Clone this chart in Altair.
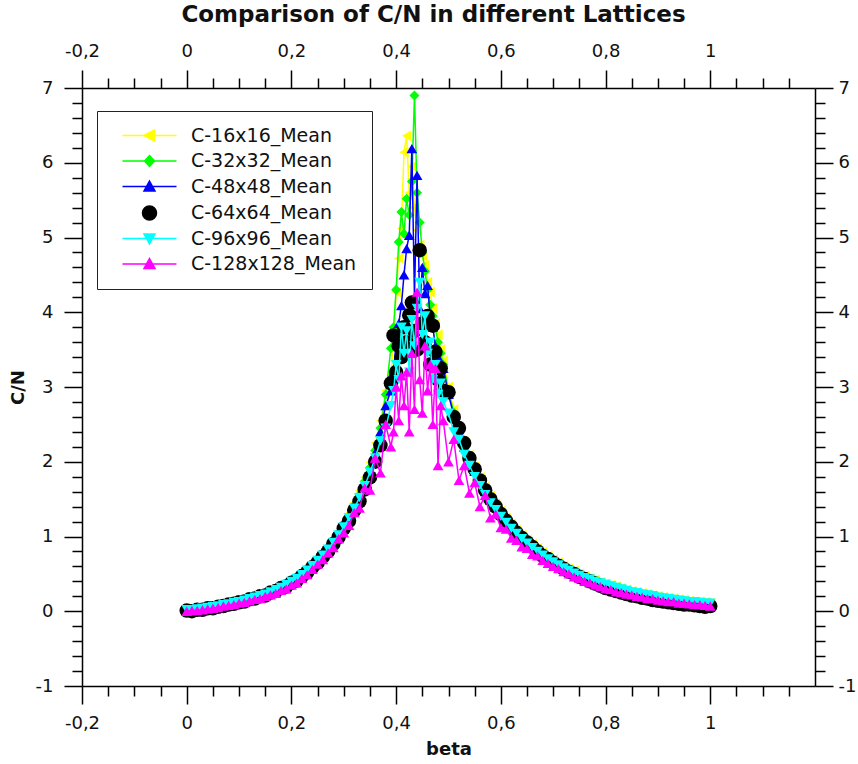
import altair as alt
import pandas as pd

FONT = "DejaVu Sans"

# inverse temperature grid (denser around the critical point)
BETA_LOW = [0.00, 0.01, 0.02, 0.03, 0.04, 0.05, 0.06, 0.07, 0.08, 0.09,
            0.10, 0.11, 0.12, 0.13, 0.14, 0.15, 0.16, 0.17, 0.18, 0.19,
            0.20, 0.21, 0.22, 0.23, 0.24, 0.25, 0.26, 0.27, 0.28, 0.29,
            0.30, 0.31, 0.32, 0.33, 0.34, 0.35, 0.36, 0.37, 0.38, 0.39]
BETA_PEAK = [0.395, 0.400, 0.405, 0.410, 0.415, 0.420, 0.425, 0.430, 0.435, 0.440,
             0.445, 0.450, 0.455, 0.460, 0.465, 0.470, 0.475, 0.480, 0.485]
BETA_HIGH = [0.49, 0.50, 0.51, 0.52, 0.53, 0.54, 0.55, 0.56, 0.57, 0.58,
             0.59, 0.60, 0.61, 0.62, 0.63, 0.64, 0.65, 0.66, 0.67, 0.68,
             0.69, 0.70, 0.71, 0.72, 0.73, 0.74, 0.75, 0.76, 0.77, 0.78,
             0.79, 0.80, 0.81, 0.82, 0.83, 0.84, 0.85, 0.86, 0.87, 0.88,
             0.89, 0.90, 0.91, 0.92, 0.93, 0.94, 0.95, 0.96, 0.97, 0.98,
             0.99, 1.00]
BETA = BETA_LOW + BETA_PEAK + BETA_HIGH

C16 = [0.02, 0.02, 0.03, 0.04, 0.05, 0.06, 0.08, 0.09, 0.11, 0.12,
       0.14, 0.16, 0.18, 0.20, 0.22, 0.25, 0.27, 0.30, 0.34, 0.37,
       0.41, 0.46, 0.51, 0.57, 0.63, 0.70, 0.78, 0.86, 0.96, 1.06,
       1.18, 1.31, 1.45, 1.61, 1.79, 1.99, 2.25, 2.55, 2.95, 3.16,
       3.55, 4.27, 4.72, 5.12, 6.14, 6.36, 5.60, 5.95, 5.40, 5.10,
       4.90, 4.75, 4.63, 4.40, 4.27, 4.05, 3.85, 3.70, 3.50,
       3.35, 3.00, 2.70, 2.47, 2.27, 2.09, 1.93, 1.79, 1.66, 1.54,
       1.44, 1.34, 1.25, 1.17, 1.09, 1.02, 0.96, 0.90, 0.84, 0.79,
       0.74, 0.69, 0.65, 0.61, 0.57, 0.54, 0.50, 0.47, 0.44, 0.42,
       0.39, 0.37, 0.35, 0.33, 0.31, 0.29, 0.27, 0.26, 0.24, 0.23,
       0.21, 0.20, 0.19, 0.18, 0.17, 0.16, 0.15, 0.14, 0.13, 0.13,
       0.12, 0.11]

C32 = [0.02, 0.01, 0.03, 0.03, 0.05, 0.06, 0.07, 0.09, 0.10, 0.12,
       0.13, 0.15, 0.17, 0.19, 0.21, 0.24, 0.26, 0.29, 0.33, 0.36,
       0.40, 0.45, 0.50, 0.55, 0.62, 0.68, 0.76, 0.84, 0.93, 1.03,
       1.15, 1.27, 1.41, 1.56, 1.74, 1.92, 2.15, 2.45, 2.90, 3.52,
       3.80, 4.30, 4.94, 5.34, 5.05, 5.52, 5.30, 5.75, 6.90, 5.60,
       5.20, 4.80, 4.55, 4.30, 4.10, 3.95, 3.80, 3.60, 3.45,
       3.30, 2.95, 2.66, 2.44, 2.24, 2.06, 1.90, 1.76, 1.63, 1.52,
       1.41, 1.31, 1.23, 1.14, 1.07, 1.00, 0.94, 0.88, 0.82, 0.77,
       0.72, 0.67, 0.63, 0.59, 0.56, 0.52, 0.49, 0.46, 0.43, 0.41,
       0.38, 0.36, 0.34, 0.32, 0.30, 0.28, 0.26, 0.25, 0.23, 0.22,
       0.21, 0.19, 0.18, 0.17, 0.16, 0.15, 0.14, 0.13, 0.12, 0.12,
       0.11, 0.10]

C48 = [0.01, 0.02, 0.02, 0.03, 0.05, 0.05, 0.07, 0.08, 0.10, 0.11,
       0.13, 0.14, 0.16, 0.18, 0.21, 0.22, 0.25, 0.28, 0.31, 0.35,
       0.39, 0.43, 0.48, 0.54, 0.60, 0.66, 0.74, 0.82, 0.91, 1.01,
       1.12, 1.24, 1.37, 1.52, 1.69, 1.88, 2.12, 2.40, 2.75, 2.95,
       3.20, 3.60, 3.85, 4.09, 4.50, 4.85, 5.03, 6.19, 4.20, 5.83,
       4.05, 4.60, 4.25, 4.36, 3.95, 3.80, 3.55, 3.40, 3.30,
       3.25, 2.90, 2.62, 2.40, 2.20, 2.02, 1.87, 1.73, 1.60, 1.49,
       1.39, 1.29, 1.21, 1.12, 1.05, 0.98, 0.92, 0.86, 0.80, 0.75,
       0.70, 0.66, 0.62, 0.58, 0.54, 0.51, 0.48, 0.45, 0.42, 0.40,
       0.37, 0.35, 0.33, 0.31, 0.29, 0.27, 0.26, 0.24, 0.23, 0.21,
       0.20, 0.19, 0.17, 0.16, 0.15, 0.14, 0.14, 0.13, 0.12, 0.11,
       0.11, 0.10]

C64 = [0.01, 0.00, 0.02, 0.02, 0.04, 0.04, 0.06, 0.07, 0.09, 0.10,
       0.12, 0.13, 0.16, 0.17, 0.20, 0.21, 0.25, 0.27, 0.31, 0.33,
       0.38, 0.41, 0.47, 0.52, 0.59, 0.65, 0.73, 0.80, 0.90, 0.99,
       1.11, 1.21, 1.35, 1.47, 1.63, 1.79, 2.00, 2.22, 2.55, 3.05,
       3.69, 3.20, 3.55, 3.40, 3.80, 3.60, 3.96, 4.13, 3.75, 3.50,
       4.83, 3.85, 3.60, 3.95, 3.30, 3.82, 3.47, 3.10, 3.25,
       2.95, 2.93, 2.60, 2.45, 2.25, 2.05, 1.90, 1.75, 1.62, 1.50,
       1.40, 1.30, 1.21, 1.13, 1.05, 0.98, 0.92, 0.86, 0.80, 0.74,
       0.70, 0.65, 0.61, 0.57, 0.53, 0.50, 0.46, 0.43, 0.40, 0.37,
       0.34, 0.31, 0.29, 0.27, 0.25, 0.23, 0.21, 0.20, 0.18, 0.17,
       0.15, 0.14, 0.13, 0.12, 0.11, 0.10, 0.09, 0.09, 0.08, 0.07,
       0.06, 0.07]

C96 = [0.02, 0.02, 0.03, 0.04, 0.05, 0.06, 0.07, 0.09, 0.10, 0.12,
       0.13, 0.15, 0.17, 0.19, 0.21, 0.23, 0.26, 0.29, 0.32, 0.36,
       0.40, 0.44, 0.49, 0.55, 0.61, 0.68, 0.75, 0.83, 0.92, 1.02,
       1.13, 1.25, 1.38, 1.52, 1.68, 1.86, 2.05, 2.28, 2.45, 2.75,
       2.95, 3.30, 3.10, 3.80, 3.45, 3.75, 3.20, 3.90, 3.55, 4.05,
       4.40, 3.70, 3.95, 3.45, 3.60, 3.10, 3.30, 2.90, 3.05,
       2.80, 2.65, 2.40, 2.30, 2.10, 1.95, 1.80, 1.68, 1.56, 1.45,
       1.36, 1.27, 1.19, 1.11, 1.04, 0.97, 0.91, 0.85, 0.80, 0.75,
       0.70, 0.66, 0.62, 0.58, 0.55, 0.51, 0.48, 0.45, 0.43, 0.40,
       0.38, 0.36, 0.34, 0.32, 0.30, 0.28, 0.26, 0.25, 0.23, 0.22,
       0.21, 0.19, 0.18, 0.17, 0.16, 0.15, 0.14, 0.13, 0.13, 0.12,
       0.11, 0.11]

C128 = [0.00, 0.01, 0.01, 0.02, 0.03, 0.04, 0.05, 0.07, 0.08, 0.09,
        0.11, 0.12, 0.14, 0.16, 0.17, 0.20, 0.22, 0.24, 0.28, 0.30,
        0.35, 0.38, 0.44, 0.49, 0.56, 0.63, 0.69, 0.78, 0.85, 0.97,
        1.05, 1.15, 1.32, 1.38, 1.65, 1.62, 2.05, 1.85, 2.50, 2.20,
        2.40, 3.00, 2.55, 3.15, 2.75, 3.20, 2.40, 3.45, 2.70, 4.27,
        3.10, 2.65, 3.55, 2.95, 3.30, 2.50, 3.25, 1.95, 2.75,
        2.55, 2.00, 2.30, 1.75, 1.95, 1.58, 1.72, 1.40, 1.55, 1.25,
        1.30, 1.12, 1.10, 0.98, 0.95, 0.86, 0.84, 0.76, 0.74, 0.68,
        0.64, 0.60, 0.57, 0.53, 0.50, 0.46, 0.44, 0.40, 0.38, 0.35,
        0.33, 0.30, 0.29, 0.26, 0.25, 0.23, 0.22, 0.20, 0.19, 0.17,
        0.17, 0.15, 0.14, 0.13, 0.13, 0.11, 0.11, 0.10, 0.09, 0.09,
        0.08, 0.07]

SERIES = ["C-16x16_Mean", "C-32x32_Mean", "C-48x48_Mean",
          "C-64x64_Mean", "C-96x96_Mean", "C-128x128_Mean"]
VALUES = [C16, C32, C48, C64, C96, C128]
COLORS = ["#ffff00", "#00ff00", "#0000ff", "#000000", "#00ffff", "#ff00ff"]
SHAPES = ["triangle-left", "diamond", "triangle-up", "circle", "triangle-down", "triangle-up"]
SIZES = [115, 100, 115, 210, 115, 115]
HAS_LINE = [True, True, True, False, True, True]

# legend glyphs: a line segment with the marker in the middle (unit = sqrt(size)/2 px)
LEGEND_GLYPHS = [
    "M-5.4,0H5.4M-1.1,0L1,-1.1L1,1.1Z",
    "M-5.4,0H5.4M0,-1.1L1,0L0,1.1L-1,0Z",
    "M-5.4,0H5.4M0,-1.1L1.1,0.9L-1.1,0.9Z",
    "M1.4,0A1.4,1.4 0 1,1 -1.4,0A1.4,1.4 0 1,1 1.4,0Z",
    "M-5.4,0H5.4M-1.1,-0.9L1.1,-0.9L0,1.1Z",
    "M-5.4,0H5.4M0,-1.1L1.1,0.9L-1.1,0.9Z",
]

X_MAJOR = [-0.2, 0, 0.2, 0.4, 0.6, 0.8, 1]
X_MINOR = [round(-0.2 + 0.05 * i, 2) for i in range(28) if i % 4]
Y_MAJOR = [-1, 0, 1, 2, 3, 4, 5, 6, 7]
Y_MINOR = [round(-1 + 0.2 * i, 1) for i in range(41) if i % 5]

frames = []
for name, vals in zip(SERIES, VALUES):
    if len(vals) != len(BETA):
        raise ValueError(f"{name}: {len(vals)} values for {len(BETA)} beta points")
    frames.append(pd.DataFrame({"beta": BETA, "C": vals, "series": name}))
data = pd.concat(frames, ignore_index=True)

x_scale = alt.Scale(domain=[-0.2, 1.2], nice=False, zero=False)
y_scale = alt.Scale(domain=[-1, 7], nice=False, zero=False)

LABEL_EXPR = "replace(toString(datum.value), '.', ',')"


def make_axis(orient, values, major, title=None, pad=10):
    kw = dict(orient=orient, values=values, grid=False,
              domain=major, domainColor="black", domainWidth=1.5,
              ticks=True, tickColor="black", tickWidth=1.5,
              tickSize=18 if major else 10, labels=major,
              title=title)
    if major:
        kw.update(labelFont=FONT, labelFontSize=18, labelColor="#111",
                  labelPadding=pad, labelFlush=False, labelOverlap=False,
                  labelExpr=LABEL_EXPR)
    if title:
        kw.update(titleFont=FONT, titleFontSize=18, titleFontWeight="bold",
                  titleColor="#111", titlePadding=8)
    return alt.Axis(**kw)


def frame_layer(x_axis, y_axis):
    return alt.Chart(data).transform_filter("false").mark_point(opacity=0).encode(
        x=alt.X("beta:Q", scale=x_scale, axis=x_axis),
        y=alt.Y("C:Q", scale=y_scale, axis=y_axis),
    )


layers = [
    frame_layer(make_axis("bottom", X_MAJOR, True, "beta"),
                make_axis("left", Y_MAJOR, True, "C/N", pad=11)),
    frame_layer(make_axis("bottom", X_MINOR, False), make_axis("left", Y_MINOR, False)),
    frame_layer(make_axis("top", X_MAJOR, True), make_axis("right", Y_MAJOR, True, pad=5)),
    frame_layer(make_axis("top", X_MINOR, False), make_axis("right", Y_MINOR, False)),
]

enc = dict(x=alt.X("beta:Q", scale=x_scale, axis=None),
           y=alt.Y("C:Q", scale=y_scale, axis=None))

for name, color, shape, size, has_line in zip(SERIES, COLORS, SHAPES, SIZES, HAS_LINE):
    sub = alt.Chart(data).transform_filter(alt.datum.series == name)
    if has_line:
        layers.append(sub.mark_line(color=color, strokeWidth=1.5).encode(**enc))
    layers.append(sub.mark_point(shape=shape, filled=True, size=size, color=color,
                                 opacity=1).encode(**enc))

legend = alt.Legend(title=None, orient="none", legendX=15, legendY=23,
                    direction="vertical", columns=1,
                    padding=15, fillColor="white", strokeColor="#222",
                    symbolSize=100, symbolStrokeWidth=1.5, symbolOpacity=1,
                    symbolOffset=28, labelOffset=32,
                    labelFont=FONT, labelFontSize=19, labelColor="#111",
                    labelLimit=400, rowPadding=5.5)

layers.append(
    alt.Chart(data).transform_filter("false").mark_point(
        filled=True, size=100, strokeWidth=1.5, opacity=1
    ).encode(
        x=alt.X("beta:Q", scale=x_scale, axis=None),
        y=alt.Y("C:Q", scale=y_scale, axis=None),
        shape=alt.Shape("series:N", scale=alt.Scale(domain=SERIES, range=LEGEND_GLYPHS), legend=legend),
        fill=alt.Fill("series:N", scale=alt.Scale(domain=SERIES, range=COLORS), legend=legend),
        stroke=alt.Stroke("series:N", scale=alt.Scale(domain=SERIES, range=COLORS), legend=legend),
    )
)

chart = alt.layer(*layers).resolve_axis(
    x="independent", y="independent"
).properties(
    width=733,
    height=598,
    autosize=alt.AutoSizeParams(type="none"),
    padding={"left": 82, "top": 88, "right": 43, "bottom": 78},
    title=alt.TitleParams(
        text="Comparison of C/N in different Lattices",
        font=FONT, fontSize=23, fontWeight="bold", color="#111",
        anchor="middle", dx=-15, offset=15,
    ),
).configure_view(strokeWidth=0)

chart.save("out.html", embed_options={"renderer": "svg", "actions": False})
